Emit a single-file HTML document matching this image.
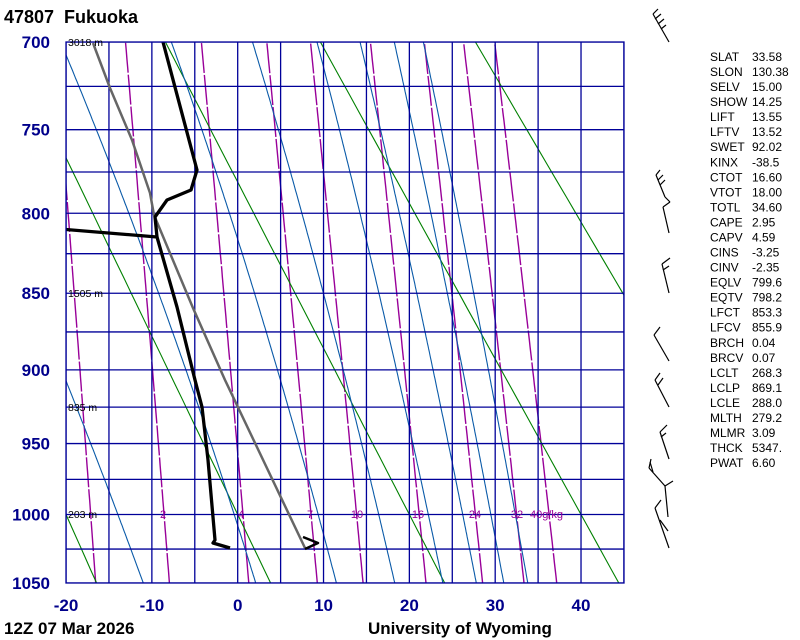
<!DOCTYPE html>
<html><head><meta charset="utf-8"><style>
html,body{margin:0;padding:0;background:#fff;}
body{width:800px;height:640px;overflow:hidden;position:relative;font-family:"Liberation Sans",sans-serif;}
svg{position:absolute;left:0;top:0;}
</style></head><body>
<svg id="s" width="800" height="640" viewBox="0 0 800 640" xmlns="http://www.w3.org/2000/svg">
<defs><clipPath id="c"><rect x="66" y="42" width="558" height="541"/></clipPath></defs>
<g id="g" clip-path="url(#c)"></g>
<g id="t"></g>
</svg>
<script>
var k=0.286,P0=Math.pow(700,k),P1=Math.pow(1050,k);
function Y(p){return 42+541*(Math.pow(p,k)-P0)/(P1-P0);}
function X(T){return 237.7+8.583*T;}
var g=document.getElementById('g'),t=document.getElementById('t');
var NS='http://www.w3.org/2000/svg';
function el(par,n,a){var e=document.createElementNS(NS,n);for(var q in a)e.setAttribute(q,a[q]);par.appendChild(e);return e;}
function poly(par,pts,col,w,extra){var a={points:pts.map(function(p){return p[0].toFixed(1)+','+p[1].toFixed(1)}).join(' '),fill:'none',stroke:col,'stroke-width':w,'stroke-linejoin':'round'};for(var q in extra)a[q]=extra[q];return el(par,'polyline',a);}
function txt(x,y,s,a){var e=el(t,'text',Object.assign({x:x,y:y},a));e.textContent=s;return e;}
// mixing ratio lines
[1,2,4,7,10,16,24,32,40].forEach(function(w){var pts=[];for(var p=1050;p>=700;p-=5){var e=w*p/(622+w),l=Math.log(e/6.112),Td=243.5*l/(17.67-l);pts.push([X(Td),Y(p)]);}poly(g,pts,'#990099',1.4,{'stroke-dasharray':'30 2'});});
// dry adiabats
[253.15,273.15,293.15,313.15,333.15,353.15].forEach(function(th){var pts=[];for(var p=1050;p>=690;p-=10){pts.push([X(th*Math.pow(p/1000,k)-273.15),Y(p)]);}poly(g,pts,'#008000',1.1);});
// moist adiabats
[-11,2.1,11.5,18.3,23.9,27.8,31.0,33.8].forEach(function(T0){var T=T0+273.15,pts=[];for(var p=1050;p>=698;p-=2){pts.push([X(T-273.15),Y(p)]);var tc=T-273.15,es=6.112*Math.exp(17.67*tc/(tc+243.5)),rs=0.622*es/(p-es),L=2.5e6;var d=(287*T+L*rs)/(p*(1005+L*L*rs*0.622/(287*T*T)));T-=2*d;}poly(g,pts,'#0a5aa8',1.1);});
// grid
for(var T=-20;T<=45;T+=5){el(g,'line',{x1:X(T),y1:42,x2:X(T),y2:583,stroke:'#000099','stroke-width':1.3});}
for(var p=700;p<=1050;p+=25){el(g,'line',{x1:66,y1:Y(p),x2:624,y2:Y(p),stroke:'#000099','stroke-width':1.3});}
el(t,'rect',{x:66,y:42,width:558,height:541,fill:'none',stroke:'#000099','stroke-width':1.3});
// parcel
poly(g,[[93,43],[110,88],[132,140],[150,193],[154,215],[193,308],[225,380],[305,548]],'#666',2.5);
// temperature / dewpoint
poly(g,[[163,42],[197,170],[191,190],[167,200],[155,217],[157,237]],'#000',3.3);
poly(g,[[60,229],[157,237],[177,307],[195,380],[202,407],[208,460],[215,540],[213,543],[230,548]],'#000',3.3);
poly(g,[[303,537],[318,543],[305,549]],'#000',2.5);
// mixing labels
[[163,'2'],[241,'4'],[310,'7'],[357,'10'],[418,'16'],[475,'24'],[517,'32']].forEach(function(a){txt(a[0],518,a[1],{'font-size':11,fill:'#990099','text-anchor':'middle'});});
txt(530,518,'40g/kg',{'font-size':11,fill:'#990099'});
// height labels
[[46,'3018 m'],[297,'1505 m'],[411,'835 m'],[518,'203 m']].forEach(function(a){txt(68,a[0],a[1],{'font-size':10.5,fill:'#000'});});
// pressure labels
[700,750,800,850,900,950,1000,1050].forEach(function(p){txt(50,Y(p)+6,String(p),{'font-size':17,'font-weight':'bold',fill:'#00008b','text-anchor':'end'});});
[-20,-10,0,10,20,30,40].forEach(function(T){txt(X(T),611,String(T),{'font-size':17,'font-weight':'bold',fill:'#00008b','text-anchor':'middle'});});
txt(4,23,'47807  Fukuoka',{'font-size':18,'font-weight':'bold',fill:'#000','style':'white-space:pre'});
txt(4,634,'12Z 07 Mar 2026',{'font-size':17,'font-weight':'bold',fill:'#000'});
txt(368,634,'University of Wyoming',{'font-size':17,'font-weight':'bold',fill:'#000'});
// stats
var st=[['SLAT','33.58'],['SLON','130.38'],['SELV','15.00'],['SHOW','14.25'],['LIFT','13.55'],['LFTV','13.52'],['SWET','92.02'],['KINX','-38.5'],['CTOT','16.60'],['VTOT','18.00'],['TOTL','34.60'],['CAPE','2.95'],['CAPV','4.59'],['CINS','-3.25'],['CINV','-2.35'],['EQLV','799.6'],['EQTV','798.2'],['LFCT','853.3'],['LFCV','855.9'],['BRCH','0.04'],['BRCV','0.07'],['LCLT','268.3'],['LCLP','869.1'],['LCLE','288.0'],['MLTH','279.2'],['MLMR','3.09'],['THCK','5347.'],['PWAT','6.60']];
st.forEach(function(r,i){var y=61+i*15.04;txt(710,y,r[0],{'font-size':12,fill:'#000'});txt(752,y,r[1],{'font-size':12,fill:'#000'});});
// wind barbs
var b=[
[[669,42],[653,14]],[[653,14],[658,9]],[[655,19],[661,14]],[[658,24],[664,19]],[[661,29],[666,25]],
[[669,233],[663,207]],[[663,207],[670,202]],[[670,202],[665,197]],[[665,197],[656,175]],[[656,175],[660,170]],[[658,180],[663,175]],[[660,185],[665,180]],
[[669,293],[662,264]],[[662,264],[670,258]],[[663,270],[669,266]],
[[669,361],[654,335]],[[654,335],[660,327]],
[[669,407],[655,380]],[[655,380],[660,373]],[[658,385],[663,378]],
[[669,459],[660,432]],[[660,432],[667,425]],[[661,437],[666,433]],
[[668,517],[665,486]],[[665,486],[649,468]],[[649,468],[651,459]],[[653,472],[650,462]],[[665,486],[673,481]],
[[669,548],[655,508]],[[655,508],[661,500]],[[660,520],[668,531]]];
b.forEach(function(l){el(t,'line',{x1:l[0][0],y1:l[0][1],x2:l[1][0],y2:l[1][1],stroke:'#000','stroke-width':1.2});});
</script>
</body></html>
